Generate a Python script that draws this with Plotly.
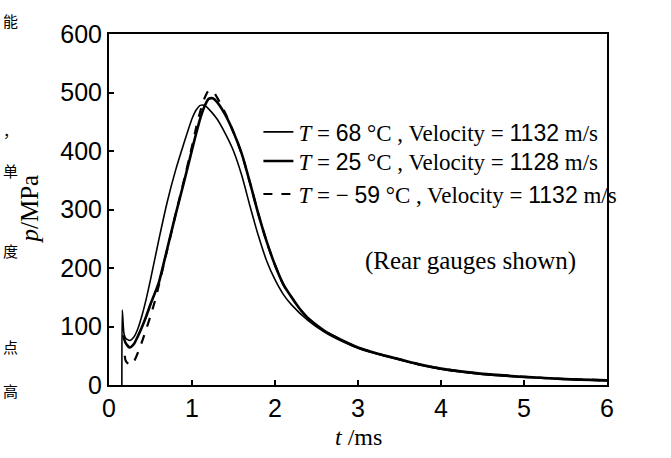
import plotly.graph_objects as go

# ---- data ----
t_68 = [0.155, 0.16, 0.18, 0.2, 0.25, 0.3, 0.35, 0.4, 0.45, 0.5, 0.6, 0.7, 0.8, 0.9, 1.0, 1.05, 1.1, 1.15,
        1.2, 1.3, 1.4, 1.5, 1.6, 1.7, 1.8, 1.9, 2.0, 2.1, 2.2, 2.4, 2.6, 2.8, 3.0, 3.25, 3.5, 3.75, 4.0,
        4.5, 5.0, 5.5, 6.0]
p_68 = [0, 128, 88, 80, 76, 82, 97, 120, 148, 180, 248, 312, 366, 412, 455, 470, 478, 478,
        472, 455, 430, 400, 358, 305, 255, 212, 180, 155, 137, 110, 90, 75, 63, 52, 43, 34, 27,
        18, 13, 10, 7]

t_25 = [0.17, 0.2, 0.25, 0.3, 0.35, 0.4, 0.45, 0.5, 0.6, 0.7, 0.8, 0.9, 1.0, 1.05, 1.1, 1.15, 1.2, 1.25,
        1.3, 1.4, 1.5, 1.6, 1.7, 1.8, 1.9, 2.0, 2.1, 2.2, 2.3, 2.4, 2.6, 2.8, 3.0, 3.25, 3.5, 3.75, 4.0,
        4.5, 5.0, 5.5, 6.0]
p_25 = [85, 72, 64, 70, 84, 100, 118, 138, 175, 232, 290, 345, 402, 430, 456, 476, 489, 490,
        484, 462, 432, 395, 345, 292, 245, 205, 172, 150, 130, 114, 92, 77, 64, 53, 44, 35, 28,
        19, 14, 10, 8]

t_m59 = [0.19, 0.2, 0.25, 0.3, 0.35, 0.4, 0.45, 0.5, 0.55, 0.6, 0.7, 0.8, 0.9, 1.0, 1.05, 1.1, 1.15, 1.2,
         1.25, 1.3, 1.4, 1.5, 1.6, 1.7, 1.8, 1.9, 2.0, 2.1, 2.2, 2.3, 2.4, 2.6, 2.8, 3.0, 3.25, 3.5, 3.75,
         4.0, 4.5, 5.0, 5.5, 6.0]
p_m59 = [50, 42, 34, 40, 56, 75, 96, 118, 142, 170, 230, 290, 348, 408, 440, 468, 490, 503,
         502, 492, 465, 432, 395, 345, 292, 245, 205, 172, 150, 130, 114, 92, 77, 64, 53, 44, 35,
         28, 19, 14, 10, 8]

x_ticks = [0, 1, 2, 3, 4, 5, 6]
y_ticks = [0, 100, 200, 300, 400, 500, 600]

NUM = "font-family:'Liberation Sans',Arial,sans-serif"
names = [
    f"<i>T</i> = <span style=\"{NUM}\">68</span> °C , Velocity = <span style=\"{NUM}\">1132</span> m/s",
    f"<i>T</i> = <span style=\"{NUM}\">25</span> °C , Velocity = <span style=\"{NUM}\">1128</span> m/s",
    f"<i>T</i> = − <span style=\"{NUM}\">59</span> °C , Velocity = <span style=\"{NUM}\">1132</span> m/s",
]

SERIF = "Liberation Serif, Times New Roman, serif"
SANS = "Liberation Sans, Arial, sans-serif"

fig = go.Figure()
fig.add_trace(go.Scatter(x=t_68, y=p_68, mode="lines", name=names[0], legend="legend",
                         line=dict(color="black", width=1.6, shape="spline", smoothing=0.6)))
fig.add_trace(go.Scatter(x=t_25, y=p_25, mode="lines", name=names[1], legend="legend2",
                         line=dict(color="black", width=2.6, shape="spline", smoothing=0.6)))
fig.add_trace(go.Scatter(x=t_m59, y=p_m59, mode="lines", name=names[2], legend="legend3",
                         line=dict(color="black", width=2.2, dash="dash", shape="spline", smoothing=0.6)))

leg_common = dict(xanchor="left", yanchor="middle", bgcolor="rgba(0,0,0,0)", borderwidth=0,
                  font=dict(family=SERIF, size=23, color="black"), itemwidth=30)
x_leg = 0.30

fig.update_layout(
    width=671, height=458,
    margin=dict(l=109, r=64, t=34, b=73),
    paper_bgcolor="white", plot_bgcolor="white",
    showlegend=True,
    legend=dict(x=x_leg, y=0.721, **leg_common),
    legend2=dict(x=x_leg, y=0.638, **leg_common),
    legend3=dict(x=x_leg, y=0.544, **leg_common),
    xaxis=dict(range=[0, 6], tickvals=x_ticks, ticktext=[str(v) for v in x_ticks],
               showgrid=False, zeroline=False, showline=True, linecolor="black", linewidth=2,
               mirror=True, ticks="inside", ticklen=5, tickwidth=2, tickcolor="black",
               tickfont=dict(family=SANS, size=25, color="black")),
    yaxis=dict(range=[0, 600], tickvals=y_ticks, ticktext=[str(v) for v in y_ticks],
               showgrid=False, zeroline=False, showline=True, linecolor="black", linewidth=2,
               mirror=True, ticks="inside", ticklen=5, tickwidth=2, tickcolor="black",
               tickfont=dict(family=SANS, size=25, color="black")),
)

# axis titles
fig.add_annotation(text="<i>t</i> /ms", xref="paper", yref="paper", x=0.5, y=(385 - 437) / 351,
                   xanchor="center", yanchor="middle", showarrow=False,
                   font=dict(family=SERIF, size=24, color="black"))
fig.add_annotation(text="<i>p</i>/MPa", xref="paper", yref="paper", x=(29 - 109) / 498, y=0.5,
                   xanchor="center", yanchor="middle", showarrow=False, textangle=-90,
                   font=dict(family=SERIF, size=25, color="black"))
# note inside the plot
fig.add_annotation(text="(Rear gauges shown)", xref="paper", yref="paper", x=0.725, y=0.353,
                   xanchor="center", yanchor="middle", showarrow=False,
                   font=dict(family=SERIF, size=25, color="black"))

# page text visible at the left edge of the scan
cjk = ["能", "，", "单", "度", "点", "高"]
cjk_y = [20, 130, 170, 250, 346, 390]
for ch, yy in zip(cjk, cjk_y):
    fig.add_annotation(text=ch, xref="paper", yref="paper", x=(1 - 109) / 498, y=(385 - yy) / 351,
                       xanchor="left", yanchor="middle", showarrow=False,
                       font=dict(family="Noto Sans CJK SC", size=15, color="black"))

fig.write_html("out.html", config={"displayModeBar": False},
               post_script="document.body.style.margin='0';")
